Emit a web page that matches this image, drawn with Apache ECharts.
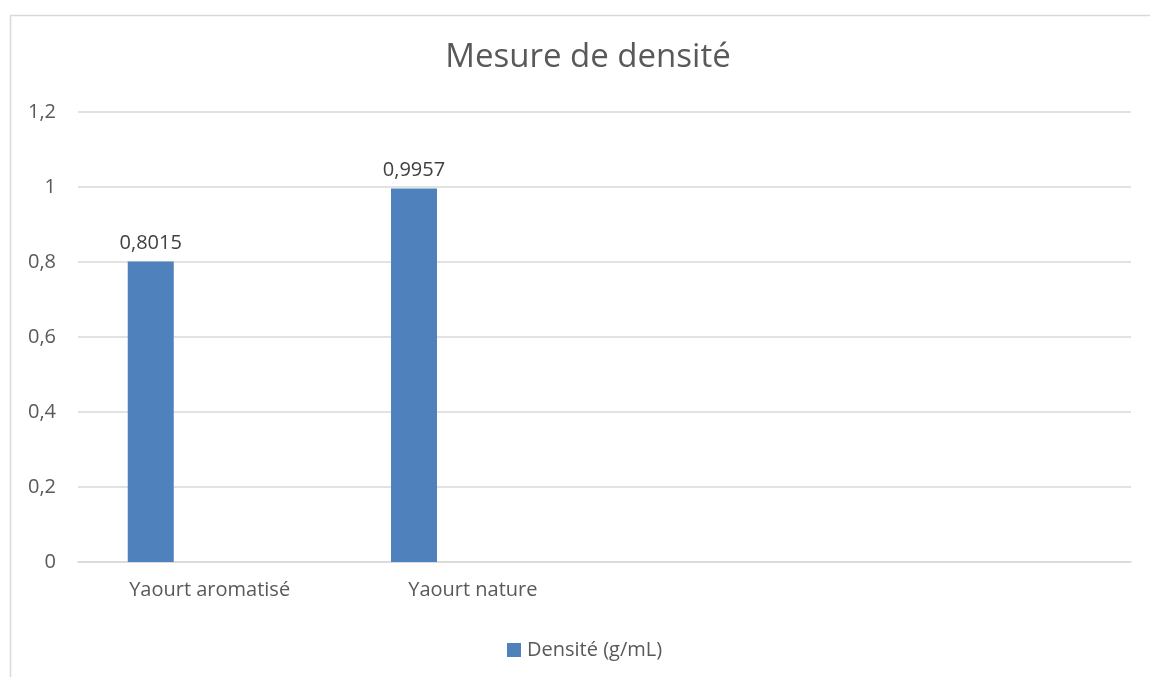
<!DOCTYPE html>
<html>
<head>
<meta charset="utf-8">
<script src="https://cdn.jsdelivr.net/npm/echarts@6/dist/echarts.min.js"></script>
<style>
 html, body { margin: 0; padding: 0; background: #fff; }
 #densite_chart { width: 1150px; height: 677px; }
</style>
</head>
<body>
<div id="densite_chart"></div>
<script>
 // données
 var categories = ['Yaourt aromatisé', 'Yaourt nature', '', ''];
 var densite = [0.8015, 0.9957, null, null];
 var vide = [null, null, null, null];
 var y_ticks = { min: 0, max: 1.2, interval: 0.2 };

 function virgule(v)
 {
   return String(v).replace('.', ',');
 }

 var myChart = echarts.init(document.getElementById('densite_chart'));
 var police = '"Open Sans", "Noto Sans", sans-serif';

 var option = {
     backgroundColor: '#ffffff',
     textStyle: { fontFamily: police },
     graphic: [{
         type: 'rect',
         left: 8, top: 13,
         shape: { width: 1170, height: 700 },
         style: { fill: 'none', stroke: '#d9d9d9', lineWidth: 1.5 },
         silent: true
     }],
     title: {
         text: 'Mesure de densité',
         left: 583, top: 36,
         textAlign: 'center',
         textStyle: { fontFamily: police, fontSize: 33, fontWeight: 'normal', color: '#595959' }
     },
     legend: {
         data: ['Densité (g/mL)'],
         left: 502, top: 635,
         icon: 'rect',
         itemWidth: 14, itemHeight: 14, itemGap: 4,
         textStyle: { fontFamily: police, fontSize: 20, color: '#595959', padding: [0, 0, 0, 1] }
     },
     grid: {
         left: 78, right: 19, top: 112, bottom: 115
     },
     xAxis: {
         type: 'category',
         data: categories,
         axisTick: { show: false },
         axisLine: { lineStyle: { color: '#d9d9d9', width: 1.5 } },
         axisLabel: { margin: 18, fontSize: 20, color: '#595959', fontFamily: police, interval: 0 }
     },
     yAxis: {
         type: 'value',
         min: y_ticks.min, max: y_ticks.max, interval: y_ticks.interval,
         axisLine: { show: false },
         axisTick: { show: false },
         splitLine: { lineStyle: { color: '#d9d9d9', width: 1.5 } },
         axisLabel: {
             margin: 22, fontSize: 20, color: '#595959', fontFamily: police,
             formatter: function (v) { return virgule(+v.toFixed(1)); }
         }
     },
     series: [{
         name: 'Densité (g/mL)',
         type: 'bar',
         data: densite,
         barWidth: 46,
         barGap: '156%',
         itemStyle: { color: '#4f81bd' },
         label: {
             show: true, position: 'top', distance: 8,
             fontSize: 20, color: '#404040', fontFamily: police,
             formatter: function (p) { return virgule(p.value); }
         }
     }, {
         name: 'vide',
         type: 'bar',
         data: vide,
         barWidth: 46
     }]
 };
 myChart.setOption(option);
</script>
</body>
</html>
